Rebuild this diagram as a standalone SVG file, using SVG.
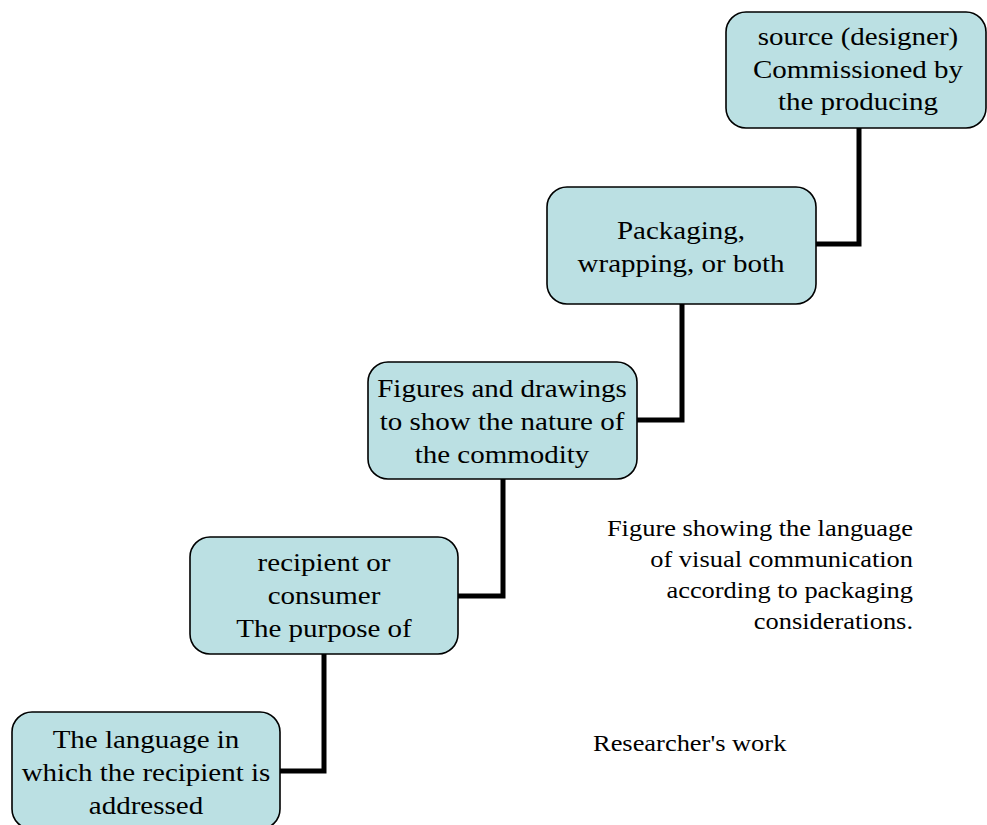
<svg xmlns="http://www.w3.org/2000/svg" width="987" height="825" viewBox="0 0 987 825">
<style>
.box{fill:#bbe0e3;stroke:#000;stroke-width:1.6}
.t{font-size:25px;fill:#000;text-anchor:middle}
.c{font-size:23px;fill:#000}
.conn{fill:none;stroke:#000;stroke-width:5;stroke-linejoin:miter}
</style>
<rect width="987" height="825" fill="#fff"/>
<g id="connectors">
<path class="conn" d="M859,128 V244 H816"/>
<path class="conn" d="M682,304 V420 H637"/>
<path class="conn" d="M503,479 V596 H458"/>
<path class="conn" d="M324,654 V771 H280"/>
</g>
<g font-family="Liberation Serif, Times New Roman, DejaVu Serif, serif">
<g id="node1">
<rect class="box" x="726" y="12" width="260" height="116" rx="20"/>
<g transform="translate(858,0) scale(1.16,1)">
<text class="t" x="0" y="45">source (designer)</text>
<text class="t" x="0" y="78">Commissioned by</text>
<text class="t" x="0" y="110">the producing</text>
</g>
</g>
<g id="node2">
<rect class="box" x="547" y="187" width="269" height="117" rx="20"/>
<g transform="translate(681,0) scale(1.16,1)">
<text class="t" x="0" y="239">Packaging,</text>
<text class="t" x="0" y="272">wrapping, or both</text>
</g>
</g>
<g id="node3">
<rect class="box" x="368" y="362" width="269" height="117" rx="20"/>
<g transform="translate(502,0) scale(1.16,1)">
<text class="t" x="0" y="397">Figures and drawings</text>
<text class="t" x="0" y="430">to show the nature of</text>
<text class="t" x="0" y="463">the commodity</text>
</g>
</g>
<g id="node4">
<rect class="box" x="190" y="537" width="268" height="117" rx="20"/>
<g transform="translate(324,0) scale(1.16,1)">
<text class="t" x="0" y="571">recipient or</text>
<text class="t" x="0" y="604">consumer</text>
<text class="t" x="0" y="637">The purpose of</text>
</g>
</g>
<g id="node5">
<rect class="box" x="12" y="712" width="268" height="117" rx="20"/>
<g transform="translate(146,0) scale(1.16,1)">
<text class="t" x="0" y="748">The language in</text>
<text class="t" x="0" y="781">which the recipient is</text>
<text class="t" x="0" y="814">addressed</text>
</g>
</g>
<g id="caption" transform="translate(913,0) scale(1.15,1)">
<text class="c" x="0" y="536" text-anchor="end">Figure showing the language</text>
<text class="c" x="0" y="567" text-anchor="end">of visual communication</text>
<text class="c" x="0" y="598" text-anchor="end">according to packaging</text>
<text class="c" x="0" y="629" text-anchor="end">considerations.</text>
</g>
<g id="credit" transform="translate(593,0) scale(1.15,1)">
<text class="c" x="0" y="751">Researcher's work</text>
</g>
</g>
</svg>
